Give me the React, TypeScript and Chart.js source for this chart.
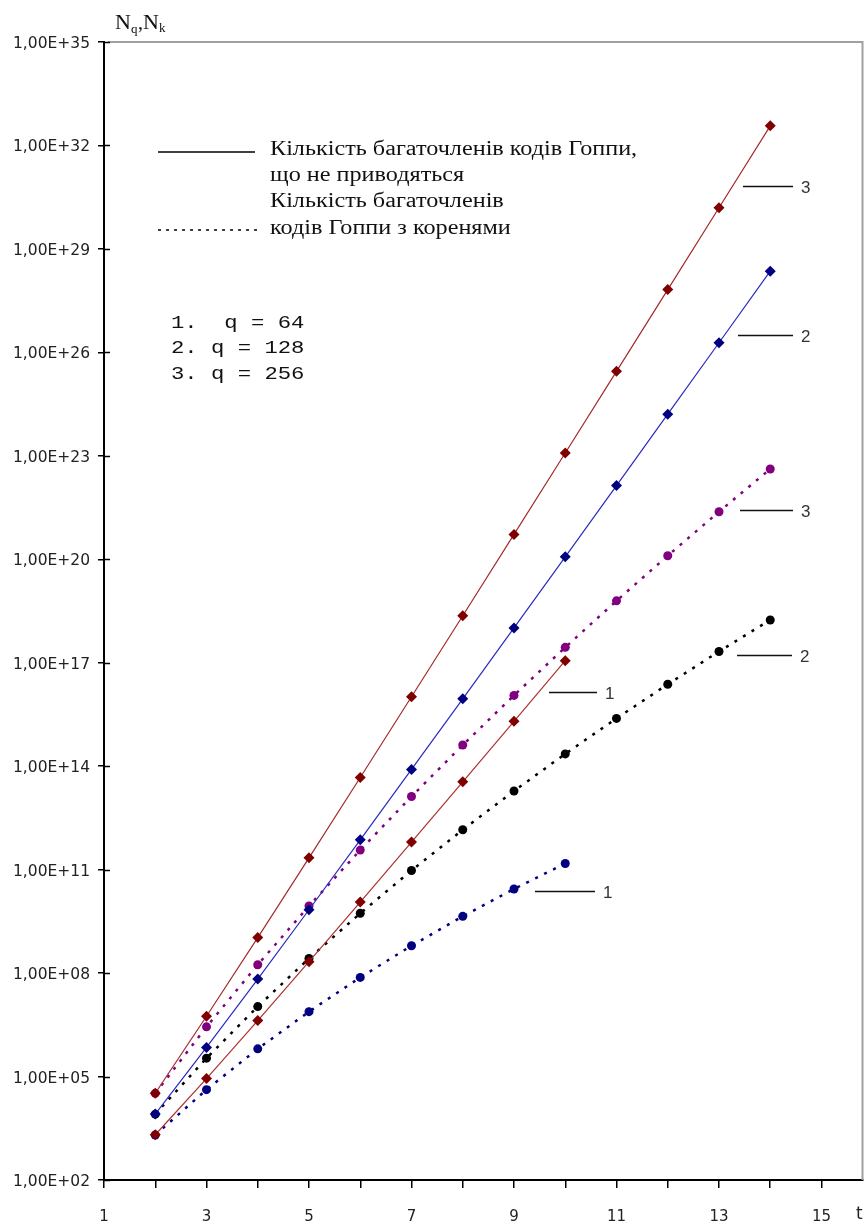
import React, { useEffect, useRef } from "react";
import { Chart, registerables } from "chart.js";

Chart.register(...registerables);

// ---- data (t = polynomial degree) ----
const T_FULL = [2, 3, 4, 5, 6, 7, 8, 9, 10, 11, 12, 13, 14];
const T_SHORT = [2, 3, 4, 5, 6, 7, 8, 9, 10];

// number of irreducible Goppa polynomials (solid lines)
const irreducibleQ256 = [3.28e4, 5.59e6, 1.07e9, 2.2e11, 4.69e13, 1.03e16, 2.31e18, 5.25e20, 1.21e23, 2.81e25, 6.6e27, 1.56e30, 3.71e32];
const irreducibleQ128 = [8.19e3, 6.99e5, 6.71e7, 6.87e9, 7.33e11, 8.04e13, 9.01e15, 1.02e18, 1.18e20, 1.37e22, 1.61e24, 1.9e26, 2.26e28];
const irreducibleQ64 = [2.05e3, 8.74e4, 4.19e6, 2.15e8, 1.15e10, 6.28e11, 3.52e13, 2.0e15, 1.15e17];

// number of Goppa polynomials with roots (dotted lines)
const rootsQ256 = [3.26e4, 2.76e6, 1.75e8, 8.81e9, 3.69e11, 1.32e13, 4.1e14, 1.13e16, 2.79e17, 6.24e18, 1.27e20, 2.39e21, 4.15e22];
const rootsQ128 = [8.13e3, 3.41e5, 1.07e7, 2.65e8, 5.42e9, 9.45e10, 1.43e12, 1.91e13, 2.27e14, 2.43e15, 2.37e16, 2.12e17, 1.74e18];
const rootsQ64 = [2.02e3, 4.17e4, 6.35e5, 7.62e6, 7.5e7, 6.21e8, 4.43e9, 2.75e10, 1.51e11];

// ---- axes ----
const Y_TICKS = [1e2, 1e5, 1e8, 1e11, 1e14, 1e17, 1e20, 1e23, 1e26, 1e29, 1e32, 1e35];
const Y_TICK_LABELS = ["1,00E+02", "1,00E+05", "1,00E+08", "1,00E+11", "1,00E+14", "1,00E+17", "1,00E+20", "1,00E+23", "1,00E+26", "1,00E+29", "1,00E+32", "1,00E+35"];
const X_TICKS = [1, 2, 3, 4, 5, 6, 7, 8, 9, 10, 11, 12, 13, 14, 15];
const X_TICK_LABELS = ["1", "", "3", "", "5", "", "7", "", "9", "", "11", "", "13", "", "15"];

// ---- texts ----
const LEGEND_LINES = [
  "Кількість багаточленів кодів Гоппи,",
  "що не приводяться",
  "Кількість багаточленів",
  "кодів Гоппи з коренями",
];
const Q_LINES = ["1.  q = 64", "2. q = 128", "3. q = 256"];
const CURVE_LABELS = ["3", "2", "3", "2", "1", "1"];

function pts(ts: number[], vs: number[]) {
  return ts.map((t, i) => ({ x: t, y: vs[i] }));
}

function drawScaled(ctx: CanvasRenderingContext2D, text: string, x: number, y: number, font: string, sx: number, color: string) {
  ctx.save();
  ctx.font = font;
  ctx.fillStyle = color;
  ctx.textBaseline = "alphabetic";
  ctx.textAlign = "left";
  ctx.translate(x, y);
  ctx.scale(sx, 1);
  ctx.fillText(text, 0, 0);
  ctx.restore();
}

const decorPlugin = {
  id: "decor",
  beforeDatasetsDraw(chart: any) {
    const ctx: CanvasRenderingContext2D = chart.ctx;
    const a = chart.chartArea;
    ctx.save();
    // top and right frame (gray)
    ctx.strokeStyle = "#a0a0a0";
    ctx.lineWidth = 2;
    ctx.beginPath();
    ctx.moveTo(a.left + 4, a.top);
    ctx.lineTo(a.right, a.top);
    ctx.lineTo(a.right, a.bottom);
    ctx.stroke();
    // inner part of y ticks
    const ys = chart.scales.y;
    ctx.strokeStyle = "#000";
    ctx.lineWidth = 1.5;
    for (const v of Y_TICKS) {
      const py = Math.round(ys.getPixelForValue(v)) + 0.5;
      ctx.beginPath();
      ctx.moveTo(a.left, py);
      ctx.lineTo(a.left + 6, py);
      ctx.stroke();
    }
    ctx.restore();
  },
  afterDraw(chart: any) {
    const ctx: CanvasRenderingContext2D = chart.ctx;
    ctx.save();
    // title of y axis: N_q, N_k
    const serif = "'Liberation Serif', 'Times New Roman', serif";
    drawScaled(ctx, "N", 115, 29, `22px ${serif}`, 1, "#111");
    drawScaled(ctx, "q", 131, 33, `13px ${serif}`, 1, "#111");
    drawScaled(ctx, ",", 138, 29, `20px ${serif}`, 1, "#111");
    drawScaled(ctx, "N", 143, 29, `22px ${serif}`, 1, "#111");
    drawScaled(ctx, "k", 159, 32, `13px ${serif}`, 1, "#111");
    // x axis title
    drawScaled(ctx, "t", 856, 1219, "17px 'DejaVu Sans', sans-serif", 1, "#222");

    // legend
    ctx.strokeStyle = "#000";
    ctx.lineWidth = 1.5;
    ctx.beginPath();
    ctx.moveTo(158, 152);
    ctx.lineTo(255, 152);
    ctx.stroke();
    ctx.setLineDash([3, 5]);
    ctx.beginPath();
    ctx.moveTo(158, 230);
    ctx.lineTo(258, 230);
    ctx.stroke();
    ctx.setLineDash([]);
    const lb = [155, 181, 207, 234];
    LEGEND_LINES.forEach((s, i) => drawScaled(ctx, s, 270, lb[i], `20px ${serif}`, 1.21, "#111"));

    // q list (monospace)
    const qb = [328, 353, 379];
    Q_LINES.forEach((s, i) => drawScaled(ctx, s, 171, qb[i], "19px 'Liberation Mono', 'Courier New', monospace", 1.17, "#111"));

    // curve labels with leader lines
    const ann = [
      { x1: 743, x2: 793, y: 186 },
      { x1: 738, x2: 793, y: 335 },
      { x1: 740, x2: 793, y: 510 },
      { x1: 737, x2: 792, y: 655 },
      { x1: 549, x2: 597, y: 692 },
      { x1: 535, x2: 595, y: 891 },
    ];
    ann.forEach((p, i) => {
      ctx.strokeStyle = "#111";
      ctx.lineWidth = 1.5;
      ctx.beginPath();
      ctx.moveTo(p.x1, p.y + 0.5);
      ctx.lineTo(p.x2, p.y + 0.5);
      ctx.stroke();
      drawScaled(ctx, CURVE_LABELS[i], p.x2 + 8, p.y + 7, "17px 'Liberation Sans', Arial, sans-serif", 1, "#333");
    });
    ctx.restore();
  },
};

export default function App() {
  const ref = useRef<HTMLCanvasElement | null>(null);
  useEffect(() => {
    document.body.style.margin = "0";
    const canvas = ref.current!;
    const solid = (label: string, ts: number[], vs: number[], line: string, mark: string) => ({
      label,
      data: pts(ts, vs),
      borderColor: line,
      backgroundColor: mark,
      borderWidth: 1.2,
      pointStyle: "rectRot",
      pointRadius: 5.5,
      pointBorderWidth: 0,
      pointBackgroundColor: mark,
      pointBorderColor: mark,
      tension: 0,
      fill: false,
    });
    const dotted = (label: string, ts: number[], vs: number[], color: string) => ({
      label,
      data: pts(ts, vs),
      borderColor: color,
      backgroundColor: color,
      borderWidth: 2.5,
      borderDash: [3, 7],
      borderCapStyle: "butt",
      pointStyle: "circle",
      pointRadius: 4.5,
      pointBorderWidth: 0,
      pointBackgroundColor: color,
      pointBorderColor: color,
      tension: 0,
      fill: false,
    });
    const chart = new Chart(canvas, {
      type: "line",
      data: {
        datasets: [
          solid("q=256", T_FULL, irreducibleQ256, "#a52a2a", "#800000"),
          solid("q=128", T_FULL, irreducibleQ128, "#2a2ac0", "#000080"),
          solid("q=64", T_SHORT, irreducibleQ64, "#b03030", "#800000"),
          dotted("q=256 roots", T_FULL, rootsQ256, "#800080"),
          dotted("q=128 roots", T_FULL, rootsQ128, "#000000"),
          dotted("q=64 roots", T_SHORT, rootsQ64, "#000080"),
        ] as any,
      },
      options: {
        animation: false,
        responsive: false,
        maintainAspectRatio: false,
        layout: { padding: { left: 0, top: 42, right: 2, bottom: 0 } },
        plugins: { legend: { display: false }, tooltip: { enabled: false } },
        scales: {
          x: {
            type: "linear",
            min: 1,
            max: 15.8,
            afterBuildTicks: (s: any) => {
              s.ticks = X_TICKS.map((v) => ({ value: v }));
            },
            afterFit: (s: any) => {
              s.height = 45;
            },
            ticks: {
              autoSkip: false,
              maxRotation: 0,
              padding: 20,
              color: "#222",
              font: { family: "'DejaVu Sans', sans-serif", size: 15 },
              callback: (_v: any, i: number) => X_TICK_LABELS[i],
            },
            grid: { drawOnChartArea: false, drawTicks: true, tickLength: 8, color: "#000", lineWidth: 1.5 },
            border: { display: true, color: "#000", width: 2 },
          },
          y: {
            type: "logarithmic",
            min: 1e2,
            max: 1e35,
            afterBuildTicks: (s: any) => {
              s.ticks = Y_TICKS.map((v) => ({ value: v }));
            },
            afterFit: (s: any) => {
              s.width = 104;
            },
            ticks: {
              autoSkip: false,
              padding: 8,
              labelOffset: 2,
              color: "#222",
              font: { family: "'DejaVu Sans', sans-serif", size: 15.5 },
              callback: (_v: any, i: number) => Y_TICK_LABELS[i],
            },
            grid: { drawOnChartArea: false, drawTicks: true, tickLength: 6, color: "#000", lineWidth: 1.5 },
            border: { display: true, color: "#000", width: 2 },
          },
        },
      } as any,
      plugins: [decorPlugin],
    });
    return () => chart.destroy();
  }, []);
  return <canvas ref={ref} width={868} height={1225} style={{ display: "block", width: 868, height: 1225 }} />;
}
